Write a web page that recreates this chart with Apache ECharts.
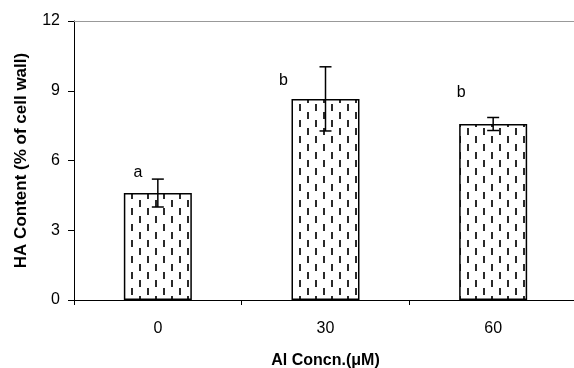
<!DOCTYPE html>
<html>
<head>
<meta charset="utf-8">
<script src="https://cdn.jsdelivr.net/npm/echarts@6/dist/echarts.min.js"></script>
<style>html,body{margin:0;padding:0;background:#fff}#c{width:574px;height:368px}</style>
</head>
<body>
<div id="c"></div>
<script>
const categories = ['0', '30', '60'];
const means = [4.6, 8.65, 7.57];
const errors = [0.6, 1.38, 0.28];
const sigLetters = ['a', 'b', 'b'];
const letterHeights = [5.46, 9.42, 8.9];
const yTicks = [0, 3, 6, 9, 12];

const FONT = "'Liberation Sans', Arial, sans-serif";
const letterOffsets = [-20, -42, -32];

// dashed pattern tile
const tile = document.createElement('canvas');
tile.width = 16; tile.height = 16;
const tc = tile.getContext('2d');
tc.fillStyle = '#fff';
tc.fillRect(0, 0, 16, 16);
tc.fillStyle = '#2a2a2a';
tc.fillRect(3, 0, 2, 7);
tc.fillRect(11, 8, 2, 7);

const chart = echarts.init(document.getElementById('c'), null, {renderer: 'canvas', devicePixelRatio: 1});
chart.setOption({
  animation: false,
  backgroundColor: '#fff',
  grid: {left: 74, top: 21, right: -3, bottom: 68, containLabel: false, outerBoundsMode: 'none'},
  xAxis: [{
    type: 'category', data: categories, position: 'bottom',
    axisLine: {lineStyle: {color: '#000', width: 1}},
    axisTick: {show: true, length: 5, lineStyle: {color: '#000'}},
    axisLabel: {color: '#000', fontSize: 16, fontFamily: FONT, margin: 21},
    name: 'Al Concn.(\u03bcM)', nameLocation: 'middle', nameGap: 53,
    nameTextStyle: {color: '#000', fontSize: 16, fontWeight: 'bold', fontFamily: FONT}
  }, {
    type: 'category', data: categories, position: 'top',
    axisLine: {lineStyle: {color: '#999', width: 1}},
    axisTick: {show: false}, axisLabel: {show: false}
  }],
  yAxis: {
    type: 'value', min: yTicks[0], max: yTicks[yTicks.length - 1], interval: yTicks[1] - yTicks[0],
    axisLine: {show: true, lineStyle: {color: '#000', width: 1}},
    axisTick: {show: true, length: 6, lineStyle: {color: '#000'}},
    splitLine: {show: false},
    axisLabel: {color: '#000', fontSize: 16, fontFamily: FONT, margin: 14},
    name: 'HA Content (% of cell wall)', nameLocation: 'middle', nameGap: 44,
    nameTextStyle: {color: '#000', fontSize: 17, fontWeight: 'bold', fontFamily: FONT}
  },
  series: [{
    type: 'bar', data: means, barWidth: 68,
    itemStyle: {color: {image: tile, repeat: 'repeat'}, borderColor: '#000', borderWidth: 1.5}
  }, {
    type: 'custom',
    data: means.map((m, i) => [i, m, errors[i]]),
    renderItem: function (params, api) {
      const i = api.value(0), m = api.value(1), e = api.value(2);
      const t = api.coord([i, m + e]);
      const b = api.coord([i, m - e]);
      const hw = 6;
      const st = {stroke: '#000', lineWidth: 1.5};
      return {type: 'group', children: [
        {type: 'line', shape: {x1: t[0], y1: t[1], x2: b[0], y2: b[1]}, style: st},
        {type: 'line', shape: {x1: t[0] - hw, y1: t[1], x2: t[0] + hw, y2: t[1]}, style: st},
        {type: 'line', shape: {x1: b[0] - hw, y1: b[1], x2: b[0] + hw, y2: b[1]}, style: st}
      ]};
    },
    z: 5
  }, {
    type: 'custom',
    data: letterHeights.map((h, i) => [i, h]),
    renderItem: function (params, api) {
      const i = api.value(0);
      const p = api.coord([i, api.value(1)]);
      return {type: 'text', x: p[0] + letterOffsets[params.dataIndex], y: p[1],
        style: {text: sigLetters[params.dataIndex], fill: '#000', font: '16px ' + FONT,
          textAlign: 'center', textVerticalAlign: 'middle'}};
    },
    z: 6
  }]
});
</script>
</body>
</html>
